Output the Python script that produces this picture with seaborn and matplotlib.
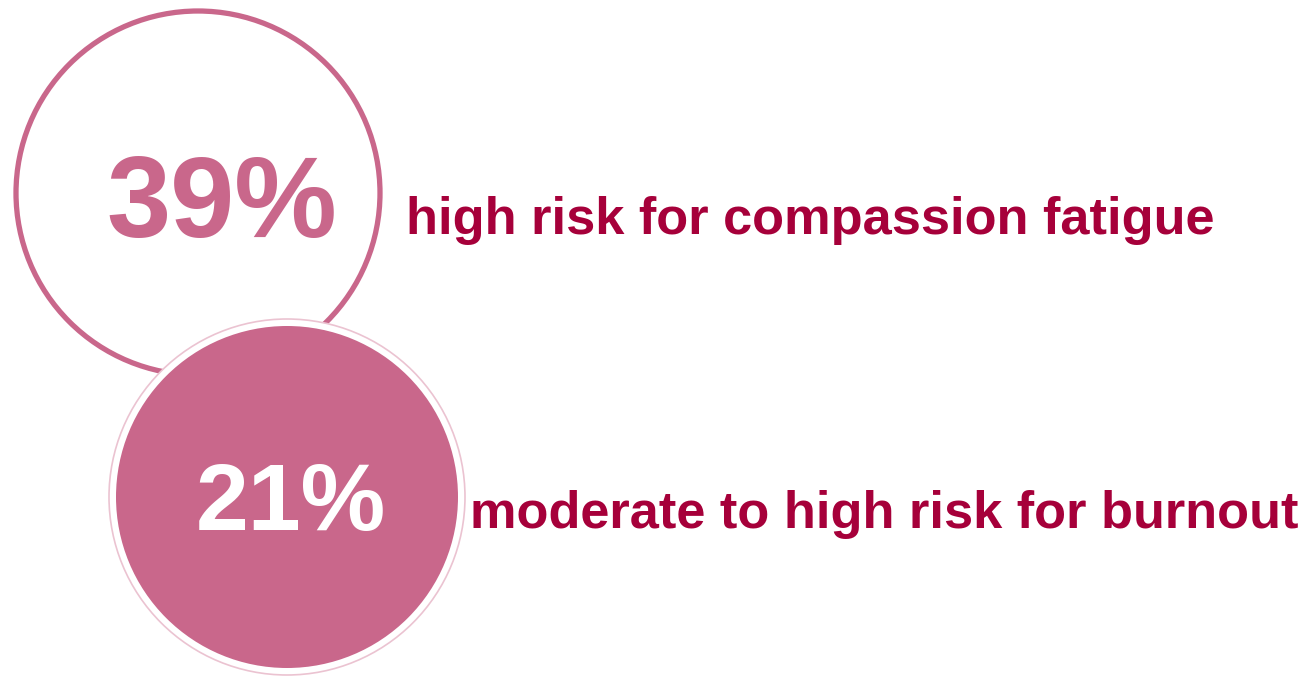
import matplotlib
matplotlib.use("Agg")
import matplotlib.pyplot as plt
from matplotlib.patches import Circle
import seaborn as sns

# data
percentages = [39, 21]
descriptions = ["high risk for compassion fatigue",
                "moderate to high risk for burnout"]

sns.set_theme(style="white")
plt.rcParams['font.family'] = ['Liberation Sans', 'DejaVu Sans']

W, H = 1306, 684
fig = plt.figure(figsize=(W / 100, H / 100), dpi=100)
ax = fig.add_axes([0, 0, 1, 1])
ax.set_xlim(0, W)
ax.set_ylim(H, 0)
ax.set_aspect("equal")
ax.axis("off")

pink = "#C9678B"
crimson = "#A6003A"

# layout (pixels)
c1 = (198, 193); r1 = 182
c2 = (287, 497); r2 = 171

# circle 1: outline
ax.add_patch(Circle(c1, r1, facecolor="white", edgecolor=pink, lw=3.8, zorder=1))
# circle 2: filled with white border and faint pink outline
ax.add_patch(Circle(c2, r2 + 7, facecolor="white", edgecolor="#EBC3D1", lw=1.2, zorder=2))
ax.add_patch(Circle(c2, r2, facecolor=pink, edgecolor="none", zorder=3))

ax.text(222, 237, f"{percentages[0]}%", fontsize=83, fontweight="bold",
        color=pink, ha="center", va="baseline", zorder=4)
ax.text(291, 530, f"{percentages[1]}%", fontsize=68.5, fontweight="bold",
        color="white", ha="center", va="baseline", zorder=4)

ax.text(406, 234, descriptions[0], fontsize=37.7, fontweight="bold",
        color=crimson, ha="left", va="baseline", zorder=4)
ax.text(470, 528, descriptions[1], fontsize=37.7, fontweight="bold",
        color=crimson, ha="left", va="baseline", zorder=4)

fig.savefig("out.png", dpi=100)
